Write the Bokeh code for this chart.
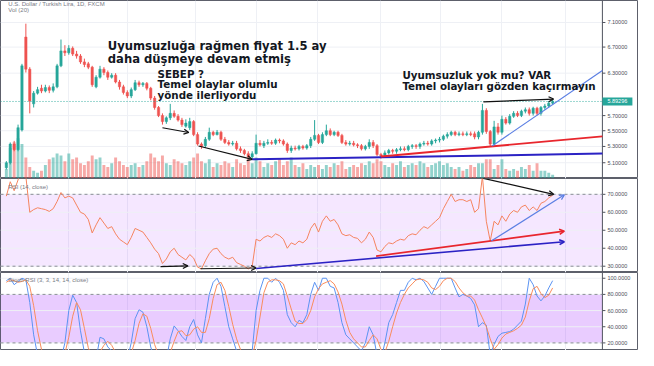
from bokeh.plotting import figure
from bokeh.layouts import column
from bokeh.models import (Range1d, LinearScale, FixedTicker, BoxAnnotation, Label, Arrow,
                          OpenHead, ColumnDataSource)
from bokeh.core.properties import value
from bokeh.embed import file_html
from bokeh.resources import INLINE

# ---------------- data (daily USD/TRY candles, index = trading day) ----------------
opens = [5.04, 5.10, 5.33, 5.26, 5.51, 6.86, 6.36, 5.86, 6.01, 6.08,
         6.04, 6.09, 6.05, 6.10, 6.41, 6.64, 6.61, 6.68, 6.59, 6.56,
         6.47, 6.44, 6.39, 6.10, 6.24, 6.36, 6.31, 6.24, 6.27, 6.17,
         6.10, 6.02, 5.97, 6.06, 6.16, 6.13, 6.15, 6.08, 5.94, 5.81,
         5.70, 5.62, 5.67, 5.73, 5.69, 5.64, 5.56, 5.54, 5.62, 5.45,
         5.33, 5.31, 5.39, 5.48, 5.45, 5.48, 5.39, 5.35, 5.33, 5.34,
         5.27, 5.25, 5.21, 5.17, 5.21, 5.34, 5.31, 5.34, 5.35, 5.34,
         5.38, 5.37, 5.33, 5.25, 5.28, 5.27, 5.30, 5.28, 5.31, 5.39,
         5.44, 5.35, 5.45, 5.50, 5.45, 5.48, 5.44, 5.35, 5.33, 5.34,
         5.32, 5.31, 5.27, 5.30, 5.35, 5.31, 5.20, 5.19, 5.22, 5.25,
         5.24, 5.26, 5.27, 5.26, 5.30, 5.31, 5.30, 5.33, 5.34, 5.33,
         5.37, 5.38, 5.39, 5.43, 5.45, 5.48, 5.45, 5.46, 5.45, 5.46,
         5.46, 5.42, 5.48, 5.77, 5.49, 5.33, 5.55, 5.48, 5.65, 5.60,
         5.69, 5.73, 5.70, 5.76, 5.78, 5.73, 5.80, 5.73, 5.81, 5.83,
         5.87]
closes = [5.10, 5.33, 5.26, 5.54, 6.41, 6.36, 5.90, 6.01, 6.06, 6.04,
          6.09, 6.05, 6.10, 6.41, 6.64, 6.61, 6.68, 6.59, 6.56, 6.47,
          6.43, 6.39, 6.13, 6.24, 6.36, 6.31, 6.24, 6.27, 6.17, 6.10,
          6.02, 5.97, 6.06, 6.16, 6.13, 6.15, 6.08, 5.94, 5.81, 5.70,
          5.62, 5.67, 5.73, 5.69, 5.64, 5.58, 5.60, 5.62, 5.45, 5.33,
          5.30, 5.39, 5.48, 5.45, 5.48, 5.39, 5.35, 5.33, 5.34, 5.27,
          5.25, 5.21, 5.17, 5.21, 5.34, 5.32, 5.34, 5.35, 5.34, 5.38,
          5.37, 5.33, 5.25, 5.28, 5.27, 5.30, 5.28, 5.31, 5.39, 5.44,
          5.35, 5.45, 5.50, 5.45, 5.48, 5.44, 5.35, 5.33, 5.34, 5.32,
          5.31, 5.27, 5.30, 5.35, 5.31, 5.20, 5.18, 5.22, 5.25, 5.24,
          5.26, 5.27, 5.26, 5.30, 5.31, 5.30, 5.33, 5.34, 5.33, 5.37,
          5.38, 5.39, 5.43, 5.45, 5.48, 5.45, 5.46, 5.45, 5.46, 5.45,
          5.42, 5.48, 5.77, 5.49, 5.33, 5.55, 5.48, 5.65, 5.60, 5.69,
          5.73, 5.70, 5.76, 5.78, 5.73, 5.80, 5.73, 5.81, 5.83, 5.87,
          5.89296]
highs = [5.12, 5.35, 5.37, 5.58, 6.44, 7.08, 6.39, 6.04, 6.10, 6.13,
         6.13, 6.12, 6.15, 6.44, 6.82, 6.73, 6.73, 6.71, 6.64, 6.59,
         6.52, 6.47, 6.41, 6.27, 6.41, 6.39, 6.34, 6.30, 6.30, 6.20,
         6.13, 6.05, 6.09, 6.20, 6.19, 6.17, 6.17, 6.10, 5.97, 5.83,
         5.73, 5.69, 5.86, 5.77, 5.72, 5.67, 5.65, 5.67, 5.64, 5.48,
         5.35, 5.42, 5.54, 5.50, 5.51, 5.50, 5.42, 5.38, 5.37, 5.37,
         5.30, 5.27, 5.24, 5.24, 5.45, 5.38, 5.37, 5.39, 5.38, 5.40,
         5.40, 5.39, 5.35, 5.31, 5.31, 5.32, 5.32, 5.33, 5.42, 5.64,
         5.46, 5.48, 5.58, 5.53, 5.50, 5.50, 5.46, 5.38, 5.37, 5.37,
         5.34, 5.33, 5.32, 5.39, 5.38, 5.33, 5.22, 5.25, 5.27, 5.27,
         5.28, 5.30, 5.30, 5.32, 5.33, 5.33, 5.35, 5.37, 5.37, 5.39,
         5.40, 5.42, 5.45, 5.48, 5.50, 5.50, 5.49, 5.49, 5.49, 5.49,
         5.49, 5.50, 5.86, 5.80, 5.51, 5.63, 5.60, 5.70, 5.68, 5.72,
         5.76, 5.76, 5.78, 5.81, 5.81, 5.82, 5.82, 5.83, 5.86, 5.90,
         5.93]
lows = [5.02, 5.08, 5.24, 5.24, 5.49, 6.31, 5.73, 5.81, 5.99, 6.01,
        6.02, 6.01, 6.02, 6.08, 6.39, 6.56, 6.58, 6.56, 6.52, 6.44,
        6.39, 6.36, 6.10, 6.08, 6.22, 6.27, 6.20, 6.22, 6.15, 6.06,
        5.99, 5.94, 5.94, 6.04, 6.10, 6.10, 6.05, 5.91, 5.78, 5.68,
        5.58, 5.59, 5.64, 5.67, 5.62, 5.55, 5.54, 5.51, 5.43, 5.31,
        5.27, 5.28, 5.37, 5.43, 5.44, 5.37, 5.33, 5.31, 5.31, 5.25,
        5.22, 5.19, 5.14, 5.14, 5.20, 5.30, 5.28, 5.32, 5.32, 5.32,
        5.34, 5.31, 5.22, 5.22, 5.25, 5.25, 5.26, 5.26, 5.28, 5.37,
        5.33, 5.33, 5.43, 5.43, 5.43, 5.42, 5.33, 5.31, 5.31, 5.30,
        5.28, 5.25, 5.25, 5.27, 5.28, 5.18, 5.15, 5.17, 5.20, 5.21,
        5.21, 5.24, 5.24, 5.24, 5.27, 5.27, 5.27, 5.31, 5.31, 5.31,
        5.34, 5.35, 5.37, 5.40, 5.43, 5.43, 5.43, 5.43, 5.43, 5.43,
        5.39, 5.39, 5.45, 5.46, 5.30, 5.31, 5.45, 5.45, 5.58, 5.58,
        5.67, 5.68, 5.68, 5.73, 5.70, 5.70, 5.70, 5.70, 5.78, 5.81,
        5.85]
volume = [10, 32, 38, 42, 36, 22, 12, 8, 6, 8,
          14, 20, 22, 26, 24, 18, 26, 20, 22, 16,
          14, 18, 24, 20, 22, 14, 12, 16, 22, 18,
          14, 12, 14, 16, 12, 14, 18, 26, 22, 18,
          24, 16, 14, 20, 18, 16, 14, 18, 22, 26,
          18, 16, 20, 12, 16, 14, 18, 16, 12, 20,
          16, 14, 20, 16, 22, 18, 12, 16, 14, 18,
          20, 14, 18, 22, 14, 12, 16, 10, 14, 12,
          14, 10, 14, 12, 16, 14, 18, 10, 12, 14,
          12, 16, 14, 18, 16, 20, 18, 14, 12, 16,
          14, 18, 12, 14, 16, 14, 18, 16, 12, 14,
          16, 18, 14, 16, 12, 10, 12, 8, 10, 14,
          12, 16, 16, 20, 20, 10, 14, 20, 10, 8,
          10, 8, 12, 10, 14, 8, 16, 8, 8, 6,
          4]
rsi = [69, 77, 72, 78, 84, 80, 60, 61.5, 62.5, 62,
       61.5, 60.5, 62, 66, 71, 68, 69, 68, 64, 60,
       59, 56, 48.5, 53, 57, 54, 51, 52, 48, 45,
       43.5, 42, 46, 51, 50, 49, 46, 43, 39.5, 37,
       31.5, 34, 38, 40, 36.5, 35, 33.5, 36.5, 34.5, 29.5,
       28.5, 33, 37, 39.5, 40, 37, 35, 34, 35, 32,
       31, 30, 28.5, 30, 45, 44, 46, 47, 46, 48,
       47, 45, 40, 43, 42, 44, 43, 45, 51, 54,
       49, 55, 58, 55, 56, 53, 48, 47, 47.5, 46,
       45.5, 43, 45, 49, 46, 39, 38, 41, 43, 42.5,
       44, 45, 44.5, 47, 48, 47.5, 50, 52, 51, 53,
       55, 57, 62, 66, 70, 66, 67, 67, 66, 67,
       60, 62, 80, 55, 44, 55, 53, 58, 55, 59,
       61, 60, 63, 64, 61, 63, 61, 65, 66, 68,
       69.5]
stoch_k = [97, 100, 92, 96, 100, 98, 70, 30, 5, 0,
           0, 0, 0, 0, 0, 20, 60, 79, 70, 35,
           8, 0, 0, 0, 27, 25, 15, 10, 0, 0,
           0, 0, 20, 50, 61, 58, 40, 15, 0, 0,
           0, 0, 25, 41, 35, 28, 23, 40, 49, 30,
           20, 50, 80, 95, 100, 90, 65, 40, 25, 10,
           0, 0, 0, 10, 60, 85, 100, 100, 95, 100,
           95, 85, 55, 45, 40, 48, 45, 55, 80, 95,
           85, 100, 100, 90, 88, 70, 45, 30, 25, 20,
           15, 10, 20, 40, 30, 5, 0, 20, 45, 55,
           70, 85, 85, 95, 100, 98, 100, 96, 88, 80,
           90, 100, 100, 100, 100, 88, 77, 80, 78, 75,
           67, 40, 45, 42, 5, 18, 28, 32, 33, 34,
           37, 42, 47, 68, 100, 92, 78, 72, 78, 88,
           97]
stoch_d = [95, 98, 97, 95, 96, 98, 90, 66, 35, 12,
           2, 0, 0, 0, 0, 7, 27, 53, 70, 61,
           38, 14, 3, 0, 9, 17, 22, 17, 8, 3,
           0, 0, 7, 23, 44, 56, 53, 38, 18, 5,
           0, 0, 8, 22, 34, 35, 29, 30, 37, 40,
           33, 33, 50, 75, 92, 95, 85, 65, 43, 25,
           12, 3, 0, 3, 23, 52, 82, 95, 98, 98,
           97, 93, 78, 62, 47, 44, 44, 49, 60, 77,
           87, 93, 95, 97, 93, 83, 68, 48, 33, 25,
           20, 15, 15, 23, 30, 25, 12, 8, 22, 40,
           57, 70, 80, 88, 93, 98, 99, 98, 95, 88,
           86, 90, 97, 100, 100, 96, 88, 82, 78, 78,
           73, 61, 51, 40, 25, 12, 18, 26, 31, 33,
           35, 38, 42, 52, 72, 87, 90, 81, 76, 79,
           88]
last_price = 5.89296

price_ticks = [5.1, 5.3, 5.5, 5.7, 6.3, 6.7, 7.1]
rsi_ticks = [30, 40, 50, 60, 70]
stoch_ticks = [20, 40, 60, 80, 100]
month_lines = [16, 31, 48.5, 64, 79.75, 96, 111.25, 127, 143.25]

# drawings (trend lines / arrows) in chart coordinates: (x0, y0, x1, y1, color, width)
main_lines = [(63, 5.141, 152.75, 5.211, "#2b22c4", 2.0),
              (96, 5.176, 152.75, 5.428, "#e8262d", 1.8),
              (124.5, 5.306, 152.75, 6.34, "#5b7fe3", 1.2)]
main_arrows = [(40, 5.539, 46.75, 5.477, "#111111", 1.2),
               (49.25, 5.306, 63, 5.141, "#111111", 1.2),
               (122.25, 5.887, 140.25, 5.927, "#111111", 1.2)]
rsi_arrows = [(39.5, 29.8, 46.5, 30.2, "#111111", 1.2),
              (49.75, 28.6, 64, 29.0, "#111111", 1.2),
              (64, 28.7, 143, 43.6, "#2b22c4", 1.6),
              (94.75, 35.6, 143, 49.5, "#e8262d", 1.6),
              (124.25, 44.0, 143, 69.7, "#5b7fe3", 1.2),
              (122, 79.0, 140.25, 70.0, "#111111", 1.2)]

n = len(closes)
assert all(len(a) == n for a in [opens, highs, lows, volume, rsi, stoch_k, stoch_d])

GREEN = "#26a69a"
RED = "#ef5350"
idx = list(range(n))
colors = [GREEN if c >= o else RED for o, c in zip(opens, closes)]
src = ColumnDataSource(dict(
    x=idx, o=opens, c=closes, h=highs, l=lows,
    top=[max(o, c) for o, c in zip(opens, closes)],
    bottom=[min(o, c) for o, c in zip(opens, closes)],
    color=colors, vol=volume, rsi=rsi, k=stoch_k, d=stoch_d))

W = 638
X0 = -1.5
AXIS_X = 152.75                     # where the price scale begins
X_END = X0 + (AXIS_X - X0) * 654.0 / 617.0
xr = Range1d(X0, X_END)
GRID = "#eef0f5"
AX = "#50535e"
LBL = "#4a4e59"


def base(h, yr, ticks, fmt, y_type="linear"):
    p = figure(width=W, height=h, x_range=xr, y_range=yr, y_axis_type=y_type,
               x_axis_location=None, y_axis_location=None,
               toolbar_location=None, output_backend="svg",
               min_border_left=0, min_border_right=0, min_border_top=0, min_border_bottom=0,
               background_fill_color="white", border_fill_color="white")
    p.xgrid.ticker = FixedTicker(ticks=month_lines)
    p.xgrid.grid_line_color = GRID
    p.ygrid.grid_line_color = None
    p.outline_line_color = "#5d606b"
    p.outline_line_width = 1
    # horizontal grid lines (only over the chart area)
    p.segment(x0=[X0] * len(ticks), x1=[AXIS_X] * len(ticks), y0=ticks, y1=ticks,
              line_color=GRID, line_width=1)
    # price scale: axis line, tick marks and labels
    p.segment(x0=[AXIS_X], x1=[AXIS_X], y0=[yr.start], y1=[yr.end], line_color=AX, line_width=1)
    p.ray(x=[AXIS_X] * len(ticks), y=ticks, length=3, length_units="screen", angle=0,
          line_color=AX, line_width=1)
    p.text(x=[AXIS_X] * len(ticks), y=ticks, text=[fmt.format(t) for t in ticks], x_offset=5,
           text_font=value("Liberation Sans"), text_font_size="5.5px", text_color=LBL,
           text_baseline="middle", text_align="left")
    return p


def legend(p, x, y, text, base_line="middle"):
    p.add_layout(Label(x=x, y=y, text=text, text_font="Liberation Sans", text_font_size="6px",
                       text_color="#787b86", text_baseline=base_line))


def hline(p, y, color, dash, width=1, alpha=1.0):
    p.line([X0, AXIS_X], [y, y], line_color=color, line_dash=dash, line_width=width, line_alpha=alpha)


# ---------------- main price pane ----------------
p1 = base(178, Range1d(4.914, 7.478), price_ticks, "{:.5f}", "log")
p1.extra_y_ranges = {"vol": Range1d(0, 186)}
p1.extra_y_scales = {"vol": LinearScale()}
p1.vbar(x="x", width=0.75, top="vol", bottom=0, y_range_name="vol", fill_color="color",
        fill_alpha=0.5, line_color=None, source=src)
p1.segment(x0="x", y0="h", x1="x", y1="l", line_color="color", line_width=1, source=src)
p1.vbar(x="x", width=0.6, top="top", bottom="bottom", fill_color="color", line_color="color",
        line_width=0.5, source=src)
hline(p1, last_price, GREEN, "1 2", 1, 0.9)
# last price tag on the scale
p1.rect(x=[AXIS_X + 15.0 * (X_END - X0) / W], y=[last_price], width=30, height=8,
        width_units="screen", height_units="screen", fill_color=GREEN, line_color=None)
p1.text(x=[AXIS_X], y=[last_price], text=["5.89296"], x_offset=5,
        text_font=value("Liberation Sans"), text_font_size="5.5px", text_color="white",
        text_baseline="middle", text_align="left")
for x0, y0, x1, y1, col, lw in main_lines:
    p1.line([x0, x1], [y0, y1], line_color=col, line_width=lw)
for x0, y0, x1, y1, col, lw in main_arrows:
    p1.add_layout(Arrow(end=OpenHead(size=5, line_color=col, line_width=lw), x_start=x0, y_start=y0,
                        x_end=x1, y_end=y1, line_color=col, line_width=lw))

TXT = "#131722"
notes = [(26, 6.833, "Uyumsuzluğa rağmen fiyat 1.5 ay", "11.6px"),
         (26, 6.62, "daha düşmeye devam etmiş", "11.6px"),
         (38.75, 6.37, "SEBEP ?", "10.3px"),
         (38.75, 6.225, "Temel olaylar olumlu", "10.3px"),
         (38.75, 6.076, "yönde ilerliyordu", "10.3px"),
         (101.5, 6.357, "Uyumsuzluk yok mu? VAR", "10.3px"),
         (101.5, 6.20, "Temel olayları gözden kaçırmayın", "10.3px")]
for x, y, t, fs in notes:
    p1.add_layout(Label(x=x, y=y, text=t, text_font="DejaVu Sans", text_font_style="bold",
                        text_font_size=fs, text_color=TXT, text_baseline="top"))
legend(p1, 0.5, 7.47, "U.S. Dollar / Turkish Lira, 1D, FXCM", "top")
legend(p1, 0.5, 7.31, "Vol (20)")

# ---------------- RSI pane ----------------
p2 = base(94, Range1d(26.5, 78.8), rsi_ticks, "{:.4f}")
p2.add_layout(BoxAnnotation(left=X0, right=AXIS_X, bottom=30, top=70, fill_color="#9915ff",
                            fill_alpha=0.1, line_color=None, level="underlay"))
for lv in (30, 70):
    hline(p2, lv, "#8a8d96", "3 3")
p2.line("x", "rsi", line_color="#f5845f", line_width=1, source=src)
for x0, y0, x1, y1, col, lw in rsi_arrows:
    p2.add_layout(Arrow(end=OpenHead(size=5, line_color=col, line_width=lw), x_start=x0, y_start=y0,
                        x_end=x1, y_end=y1, line_color=col, line_width=lw))
legend(p2, 0.5, 74.0, "RSI (14, close)")

# ---------------- Stoch RSI pane ----------------
p3 = base(78, Range1d(10.6, 107.1), stoch_ticks, "{:.4f}")
p3.add_layout(BoxAnnotation(left=X0, right=AXIS_X, bottom=20, top=80, fill_color="#9915ff",
                            fill_alpha=0.22, line_color=None, level="underlay"))
for lv in (20, 80):
    hline(p3, lv, "#8a8d96", "3 3")
p3.line("x", "k", line_color="#5b93f2", line_width=1, source=src)
p3.line("x", "d", line_color="#f98c5c", line_width=1, source=src)
legend(p3, 0.5, 97.5, "Stoch RSI (3, 3, 14, 14, close)")

layout = column(p1, p2, p3, spacing=0)
open("out.html", "w").write(file_html(layout, INLINE))
